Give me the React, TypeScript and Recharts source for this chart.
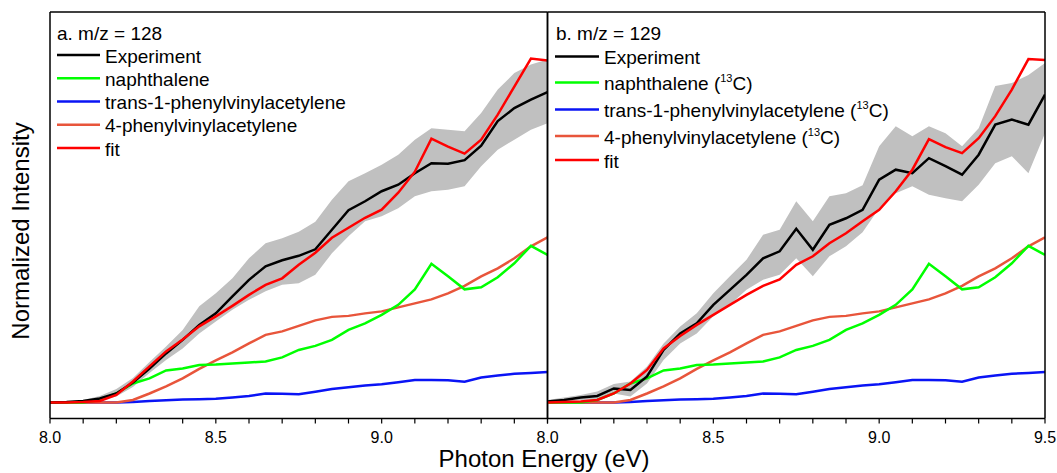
import React from 'react';
import { ComposedChart, Line, Area, XAxis, YAxis, ReferenceLine } from 'recharts';

// Photon energy (eV)
const energy = [8.0, 8.05, 8.1, 8.15, 8.2, 8.25, 8.3, 8.35, 8.4, 8.45, 8.5, 8.55, 8.6, 8.65, 8.7, 8.75, 8.8, 8.85, 8.9, 8.95, 9.0, 9.05, 9.1, 9.15, 9.2, 9.25, 9.3, 9.35, 9.4, 9.45, 9.5];

// Panel a: m/z = 128 (arbitrary intensity units)
const expA = [0, 0.5, 1.5, 4, 9, 20, 34, 49, 62.5, 77.5, 89, 106, 122.5, 136, 142, 146.5, 153, 172.5, 192, 201, 211, 217.5, 229, 239, 238.5, 242, 256.5, 281, 294, 302.5, 310];
const expALow = [0, 0, 0.5, 2, 6, 15.5, 29.5, 42.5, 54, 69, 81, 92.5, 102.5, 111, 117.5, 119, 127.5, 149, 166, 181, 186, 194, 206, 211, 212.5, 216, 236, 252.5, 262.5, 272.5, 279];
const expAHigh = [0, 1, 2.5, 6.5, 13.5, 24.5, 40.5, 56, 72.5, 96, 109, 124, 144, 159, 164, 170.5, 180.5, 202.5, 221, 229, 237.5, 247.5, 262.5, 274, 272.5, 271, 289, 312.5, 329, 337.5, 342.5];
const fitA = [0, 0, 0.5, 1.5, 7.5, 21, 36, 51, 63, 76, 86, 96.5, 107.5, 117.5, 124, 137.5, 149.5, 164.5, 174.5, 184.5, 192.5, 209.5, 230.5, 263.5, 255.5, 248.5, 262.5, 287.5, 315.5, 343.5, 341.5];

// Reference photoionization curves (same shape in both panels)
const naphthalene = [0, 0, 0, 2.5, 9, 19, 24, 32, 34, 37.5, 38, 39, 40, 41, 45, 52.5, 56.5, 62.5, 72.5, 79, 87.5, 97.5, 113, 138.5, 126, 113, 115, 125, 139, 156.5, 147.5];
const trans1PVA = [0, 0, 0, 0, 0, 0.5, 1.5, 2.3, 3, 3.3, 3.8, 5, 6.5, 8.9, 8.6, 8.2, 10.8, 13.5, 15.3, 17, 18.2, 20.3, 22.5, 22.5, 22.3, 20.7, 25, 27, 28.6, 29.5, 30.4];
const pva4 = [0, 0, 0, 0, 0, 2.5, 9, 16, 24, 33.5, 42, 50, 59, 67.5, 71, 76.5, 82, 85.5, 86.5, 89, 91, 95, 99, 103, 109, 116.5, 126, 134, 144, 156, 165];

// Panel b: m/z = 129
const expB = [1, 2.5, 5, 6.5, 14, 12.5, 26, 52.5, 69, 79, 97.5, 112.5, 127.5, 144, 151, 173.5, 152.5, 177.5, 184, 192.5, 222.5, 232.5, 229, 244, 236, 227.5, 247.5, 277.5, 282.5, 277.5, 307.5];
const expBLow = [0, 0.5, 2.5, 2.5, 9, 6, 19, 42.5, 59, 69, 86, 97.5, 112.5, 122.5, 127.5, 144, 126, 146, 156, 170, 194, 209, 216, 207.5, 204, 201, 217.5, 239, 246, 229, 269];
const expBHigh = [2.5, 5, 7.5, 11, 18.5, 21, 36, 59, 76, 89, 109, 126, 142.5, 167.5, 172.5, 201, 181, 206, 209, 217, 256, 276, 266, 276, 269, 256, 274, 316, 319, 327, 339];
const fitB = [0, 0.5, 1, 2.5, 9, 19, 32.5, 54, 66.5, 77.5, 87.5, 97.5, 107.5, 116.5, 123, 137.5, 146, 159, 169, 181, 192.5, 211, 232.5, 263, 255, 249, 264, 286, 312.5, 343, 342];

const allTicks = [8.0, 8.1, 8.2, 8.3, 8.4, 8.5, 8.6, 8.7, 8.8, 8.9, 9.0, 9.1, 9.2, 9.3, 9.4, 9.5];
const labelsA = [8.0, 8.5, 9.0];
const labelsB = [8.0, 8.5, 9.0, 9.5];

const legendA = ['Experiment', 'naphthalene', 'trans-1-phenylvinylacetylene', '4-phenylvinylacetylene', 'fit'];
const legendB = ['Experiment', 'naphthalene', 'trans-1-phenylvinylacetylene', '4-phenylvinylacetylene', 'fit'];
const legendB13C = [false, true, true, true, false];

const X_MIN = 8;
const X_MAX = 9.5;
const Y_MIN = -16;
const Y_MAX = 390;

const FONT = 'Arial, "Liberation Sans", Helvetica, sans-serif';
const COLORS = ['#000000', '#00ff00', '#0a14f5', '#e8553b', '#ff0000'];
const BAND = '#c0c0c0';

function buildRows(exp: number[], lo: number[], hi: number[], fit: number[]) {
  return energy.map((e, i) => ({
    e,
    exp: exp[i],
    band: [lo[i], hi[i]],
    fit: fit[i],
    nap: naphthalene[i],
    trans: trans1PVA[i],
    pva: pva4[i],
  }));
}

const rowsA = buildRows(expA, expALow, expAHigh, fitA);
const rowsB = buildRows(expB, expBLow, expBHigh, fitB);

const makeTick = (labelled: number[]) => (props: any) => {
  const { x, y, payload } = props;
  const v = payload.value as number;
  const show = labelled.some((t) => Math.abs(t - v) < 1e-6);
  if (!show) return <g />;
  return (
    <text x={x} y={y} dy={17} textAnchor="middle" fontSize={16} fill="#000" fontFamily={FONT}>
      {v.toFixed(1)}
    </text>
  );
};

function Panel({ data, labels, width, marginLeft, marginRight }: any) {
  return (
    <ComposedChart
      width={width}
      height={473}
      data={data}
      margin={{ top: 12, right: marginRight, bottom: 24.5, left: marginLeft }}
    >
      <XAxis
        dataKey="e"
        type="number"
        domain={[X_MIN, X_MAX]}
        ticks={allTicks}
        interval={0}
        allowDataOverflow
        height={30}
        tickSize={5}
        tickMargin={2}
        axisLine={{ stroke: '#000', strokeWidth: 1.5 }}
        tickLine={{ stroke: '#000', strokeWidth: 1.2 }}
        tick={makeTick(labels)}
      />
      <YAxis type="number" domain={[Y_MIN, Y_MAX]} allowDataOverflow hide />
      <Area type="linear" dataKey="band" stroke="none" fill={BAND} fillOpacity={1} isAnimationActive={false} />
      <Line type="linear" dataKey="trans" stroke={COLORS[2]} strokeWidth={2.5} dot={false} isAnimationActive={false} />
      <Line type="linear" dataKey="pva" stroke={COLORS[3]} strokeWidth={2.5} dot={false} isAnimationActive={false} />
      <Line type="linear" dataKey="nap" stroke={COLORS[1]} strokeWidth={2.5} dot={false} isAnimationActive={false} />
      <Line type="linear" dataKey="exp" stroke={COLORS[0]} strokeWidth={2.5} dot={false} isAnimationActive={false} />
      <Line type="linear" dataKey="fit" stroke={COLORS[4]} strokeWidth={2.5} dot={false} isAnimationActive={false} />
      <ReferenceLine x={X_MIN} stroke="#000" strokeWidth={1.5} ifOverflow="visible" />
      <ReferenceLine x={X_MAX} stroke="#000" strokeWidth={1.5} ifOverflow="visible" />
      <ReferenceLine y={Y_MAX} stroke="#000" strokeWidth={1.5} ifOverflow="visible" />
    </ComposedChart>
  );
}

export default function App() {
  const rowYA = [55, 78.3, 101.5, 124.8, 148];
  const rowYB = [56.5, 82.5, 109.5, 136, 160];
  return (
    <div style={{ position: 'absolute', left: 0, top: 0, width: 1057, height: 473, background: '#fff', overflow: 'hidden' }}>
      <div style={{ position: 'absolute', left: 0, top: 0 }}>
        <Panel data={rowsA} labels={labelsA} width={560} marginLeft={50} marginRight={12.5} />
      </div>
      <div style={{ position: 'absolute', left: 520, top: 0 }}>
        <Panel data={rowsB} labels={labelsB} width={537} marginLeft={27.5} marginRight={12} />
      </div>
      <svg width={1057} height={473} style={{ position: 'absolute', left: 0, top: 0, pointerEvents: 'none' }}>
        <g fontFamily={FONT} fill="#000">
          <text x={57} y={39.5} fontSize={19}>a. m/z = 128</text>
          {legendA.map((t, i) => (
            <g key={'a' + i}>
              <line x1={57} x2={100} y1={rowYA[i]} y2={rowYA[i]} stroke={COLORS[i]} strokeWidth={2.6} />
              <text x={105} y={rowYA[i] + 7.5} fontSize={19}>{t}</text>
            </g>
          ))}
          <text x={556} y={40} fontSize={19}>b. m/z = 129</text>
          {legendB.map((t, i) => (
            <g key={'b' + i}>
              <line x1={555} x2={599} y1={rowYB[i]} y2={rowYB[i]} stroke={COLORS[i]} strokeWidth={2.6} />
              <text x={604} y={rowYB[i] + 7.5} fontSize={19}>
                {legendB13C[i] ? (
                  <>
                    {t + ' ('}
                    <tspan dy={-8} fontSize={11}>13</tspan>
                    <tspan dy={8}>C)</tspan>
                  </>
                ) : (
                  t
                )}
              </text>
            </g>
          ))}
          <text transform="translate(29,231) rotate(-90)" textAnchor="middle" fontSize={24}>Normalized Intensity</text>
          <text x={544} y={467} textAnchor="middle" fontSize={24}>Photon Energy (eV)</text>
        </g>
      </svg>
    </div>
  );
}
